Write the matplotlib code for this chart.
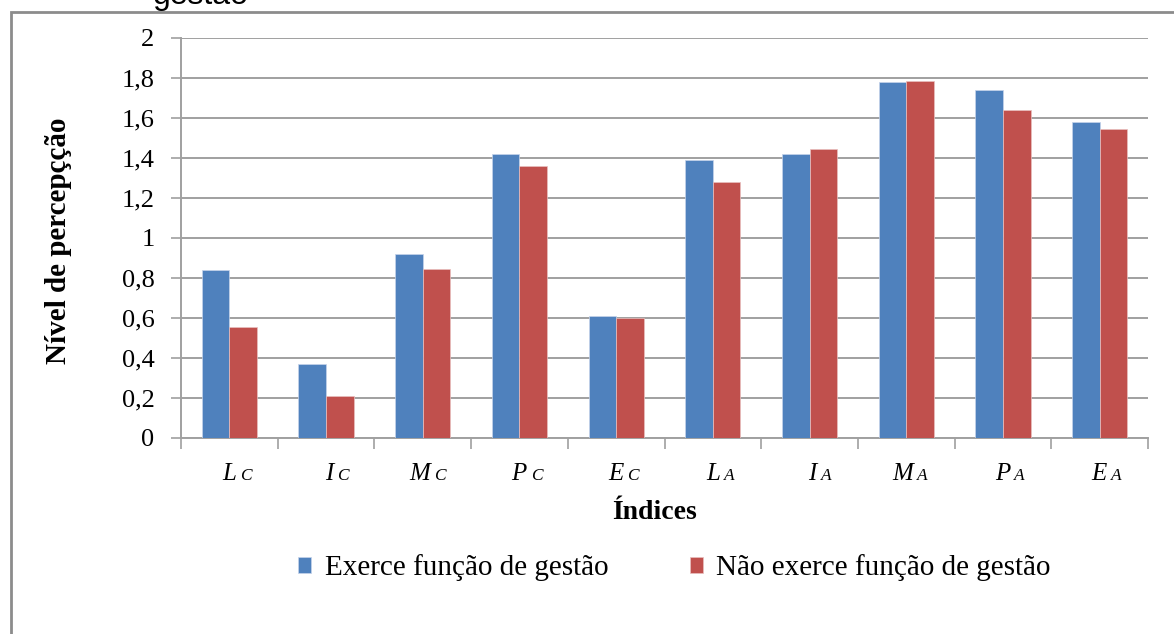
import matplotlib
matplotlib.use("Agg")
import matplotlib.pyplot as plt
import numpy as np

plt.rcParams['font.family'] = ['Liberation Serif', 'DejaVu Serif']

# dados
letras = ["L", "I", "M", "P", "E", "L", "I", "M", "P", "E"]
sufixos = ["C", "C", "C", "C", "C", "A", "A", "A", "A", "A"]
gestao = [0.84, 0.37, 0.92, 1.42, 0.61, 1.39, 1.42, 1.78, 1.74, 1.58]
nao_gestao = [0.555, 0.21, 0.845, 1.36, 0.60, 1.28, 1.445, 1.785, 1.64, 1.545]
yticks = [0, 0.2, 0.4, 0.6, 0.8, 1, 1.2, 1.4, 1.6, 1.8, 2]
ytick_labels = ["0", "0,2", "0,4", "0,6", "0,8", "1", "1,2", "1,4", "1,6", "1,8", "2"]

AZUL = "#4f81bd"
VERMELHO = "#c0504d"
CINZA = "#a0a0a0"

W, H = 1174, 634
fig = plt.figure(figsize=(W / 100, H / 100), dpi=100, facecolor="white")
ax = fig.add_axes([181 / W, 1 - 438 / H, (1148 - 181) / W, (438 - 38) / H])

x = np.arange(len(letras))
larg = 0.285
ax.bar(x - larg / 2, gestao, larg, color=AZUL, edgecolor="#c6d4ea", linewidth=0.5,
       label="Exerce função de gestão", zorder=3)
ax.bar(x + larg / 2, nao_gestao, larg, color=VERMELHO, edgecolor="#e8c0bf", linewidth=0.5,
       label="Não exerce função de gestão", zorder=3)

ax.set_xlim(-0.5, len(letras) - 0.5)
ax.set_ylim(0, 2)
ax.set_yticks(yticks)
ax.set_yticklabels(ytick_labels, fontsize=19)
ax.yaxis.grid(True, color=CINZA, linewidth=1.4, zorder=0)
ax.tick_params(axis="y", length=7, width=1.2, color=CINZA, pad=12)

# divisões das categorias
ax.set_xticks(np.arange(len(letras) + 1) - 0.5)
ax.set_xticklabels([])
ax.tick_params(axis="x", length=8, width=1.2, color=CINZA)

for s in ["top", "right"]:
    ax.spines[s].set_visible(False)
for s in ["left", "bottom"]:
    ax.spines[s].set_color(CINZA)
    ax.spines[s].set_linewidth(1.4)

# rótulos das categorias (letra + índice pequeno)
for i, (l, s) in enumerate(zip(letras, sufixos)):
    ax.annotate(l, xy=(i, 0), xycoords=("data", "axes fraction"),
                xytext=(5, -30), textcoords="offset points",
                ha="right", va="baseline", fontsize=18, style="italic")
    ax.annotate(s, xy=(i, 0), xycoords=("data", "axes fraction"),
                xytext=(8, -30), textcoords="offset points",
                ha="left", va="baseline", fontsize=12.5, style="italic")

ax.set_ylabel("Nível de percepçção", fontsize=21, fontweight="bold", va="center")
ax.yaxis.set_label_coords(-0.127, 0.494)
ax.set_xlabel("Índices", fontsize=20, fontweight="bold")
ax.xaxis.set_label_coords(0.49, -0.155)

fig.legend(loc="center", bbox_to_anchor=(674.5 / W, 1 - 568 / H), ncol=2, frameon=False,
           fontsize=21, handlelength=0.45, handleheight=0.45, handletextpad=0.45,
           columnspacing=2.8)

# moldura e título cortado
fig.add_artist(plt.Rectangle((11 / W, -0.1), 1.2, 1.1 - 12 / H, transform=fig.transFigure,
                             fill=False, edgecolor="#8c8c8c", linewidth=2))
fig.text(153 / W, 1 - 4 / H, "gestão", fontsize=23, family="Liberation Sans",
         ha="left", va="baseline")

fig.savefig("out.png", dpi=100, facecolor="white")
